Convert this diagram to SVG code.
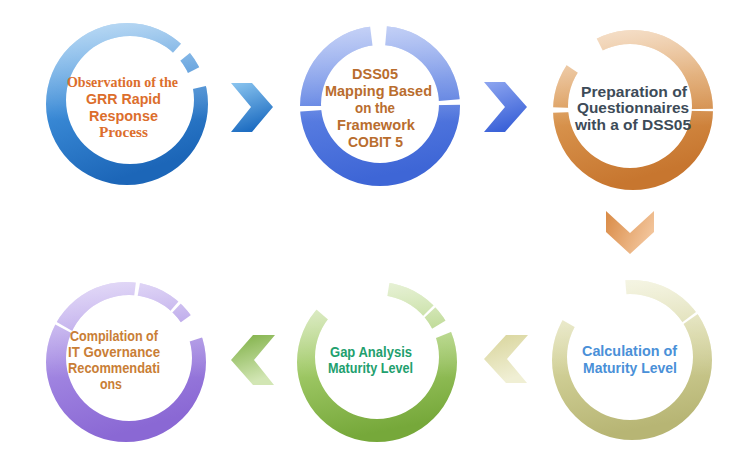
<svg xmlns="http://www.w3.org/2000/svg" width="732" height="460" viewBox="0 0 732 460">
<defs>
<style>
.ring{fill-rule:evenodd}
.shine{fill-rule:evenodd;fill:url(#shine)}
.t{font-family:"Liberation Sans",Arial,sans-serif;font-weight:bold;text-anchor:middle;font-size:15px}
.s{font-family:"Liberation Serif","Times New Roman",serif;font-weight:bold;text-anchor:middle;font-size:15px}
</style>
<linearGradient id="shine" x1="0" y1="0" x2="0" y2="1">
<stop offset="0" stop-color="#fff" stop-opacity="0.5"/>
<stop offset="0.5" stop-color="#fff" stop-opacity="0.1"/>
<stop offset="0.6" stop-color="#fff" stop-opacity="0"/>
</linearGradient>
<linearGradient id="gBlue" x1="0" y1="0" x2="0.35" y2="1">
<stop offset="0" stop-color="#7fbcee"/>
<stop offset="0.5" stop-color="#3a8ad6"/>
<stop offset="1" stop-color="#1c66b8"/>
</linearGradient>
<linearGradient id="gPeri" x1="0" y1="0" x2="0.2" y2="1">
<stop offset="0" stop-color="#93aaf0"/>
<stop offset="0.5" stop-color="#5b7fe2"/>
<stop offset="1" stop-color="#3e66d6"/>
</linearGradient>
<linearGradient id="gOrange" x1="0" y1="0" x2="0.3" y2="1">
<stop offset="0" stop-color="#efc8a0"/>
<stop offset="0.5" stop-color="#d9954f"/>
<stop offset="1" stop-color="#c7762f"/>
</linearGradient>
<linearGradient id="gPurple" x1="0" y1="0" x2="0.3" y2="1">
<stop offset="0" stop-color="#cdbcf2"/>
<stop offset="0.5" stop-color="#a287e2"/>
<stop offset="1" stop-color="#8a68d4"/>
</linearGradient>
<linearGradient id="gGreen" x1="0" y1="0" x2="0.2" y2="1">
<stop offset="0" stop-color="#dcebc0"/>
<stop offset="0.5" stop-color="#a3cb6a"/>
<stop offset="1" stop-color="#76a83a"/>
</linearGradient>
<linearGradient id="gKhaki" x1="0" y1="0" x2="0.2" y2="1">
<stop offset="0" stop-color="#f0f0d2"/>
<stop offset="0.5" stop-color="#d3d29a"/>
<stop offset="1" stop-color="#b7b574"/>
</linearGradient>
<linearGradient id="aBlue" x1="0" y1="0" x2="0.3" y2="1">
<stop offset="0" stop-color="#8cc6f0"/>
<stop offset="1" stop-color="#1f6ec2"/>
</linearGradient>
<linearGradient id="aPeri" x1="0" y1="0" x2="0.3" y2="1">
<stop offset="0" stop-color="#8ea6f0"/>
<stop offset="1" stop-color="#3b62d8"/>
</linearGradient>
<linearGradient id="aOrange" x1="0" y1="0" x2="1" y2="0.4">
<stop offset="0" stop-color="#d98a45"/>
<stop offset="1" stop-color="#f2c49a"/>
</linearGradient>
<linearGradient id="aKhaki" x1="0" y1="0" x2="0.3" y2="1">
<stop offset="0" stop-color="#d8d49a"/>
<stop offset="1" stop-color="#f0efd4"/>
</linearGradient>
<linearGradient id="aGreen" x1="0" y1="0" x2="0.3" y2="1">
<stop offset="0" stop-color="#7cae42"/>
<stop offset="1" stop-color="#d2e6b4"/>
</linearGradient>
<mask id="m1" maskUnits="userSpaceOnUse" x="0" y="0" width="732" height="460">
<rect width="732" height="460" fill="#fff"/>
<polygon points="127,104 214,7 228,22" fill="#000"/>
<polygon points="127,104 243,45 254,75" fill="#000"/>
</mask>
<mask id="m2" maskUnits="userSpaceOnUse" x="0" y="0" width="732" height="460">
<rect width="732" height="460" fill="#fff"/>
<polygon points="380,106 364,-23 391,-23" fill="#000"/>
<polygon points="380,106 509.5,95 510,104" fill="#000"/>
<polygon points="380,106 250,106 250.3,115" fill="#000"/>
</mask>
<mask id="m3" maskUnits="userSpaceOnUse" x="0" y="0" width="732" height="460">
<rect width="732" height="460" fill="#fff"/>
<polygon points="633,110 525,37 574,-6" fill="#000"/>
<polygon points="633,110 503,114.5 503,105.5" fill="#000"/>
<polygon points="633,110 763,108 763,112" fill="#000"/>
</mask>
<mask id="m4" maskUnits="userSpaceOnUse" x="0" y="0" width="732" height="460">
<rect width="732" height="460" fill="#fff"/>
<polygon points="126,362 231,286 250,322" fill="#000"/>
<polygon points="126,362 142,233 148.6,234" fill="#000"/>
<polygon points="126,362 211,264 215,267" fill="#000"/>
<polygon points="126,362 11,301 13.4,297" fill="#000"/>
</mask>
<mask id="m5" maskUnits="userSpaceOnUse" x="0" y="0" width="732" height="460">
<rect width="732" height="460" fill="#fff"/>
<polygon points="377,362 279,277 397,234" fill="#000"/>
<polygon points="377,362 469,270 472,273" fill="#000"/>
<polygon points="377,362 488,295 497.5,313" fill="#000"/>
</mask>
<mask id="m6" maskUnits="userSpaceOnUse" x="0" y="0" width="732" height="460">
<rect width="732" height="460" fill="#fff"/>
<polygon points="632,360 519,295 621,230" fill="#000"/>
<polygon points="632,360 736,282 738.5,285.4" fill="#000"/>
</mask>
</defs>
<rect width="732" height="460" fill="#fff"/>

<g id="connectors">
<polygon points="231,83 252,83 273,107 252,132 231,132 251,107" fill="url(#aBlue)"/>
<polygon points="484,82 505,82 527,107 505,132 484,132 505,107" fill="url(#aPeri)"/>
<polygon points="606,211 630,233 654,211 654,232 630,254 606,232" fill="url(#aOrange)"/>
<polygon points="528,335 506,335 484,359 506,383 527,383 507,359" fill="url(#aKhaki)"/>
<polygon points="275,335 253,335 231,360 253,385 274,385 254,360" fill="url(#aGreen)"/>
</g>

<g id="node1">
<g mask="url(#m1)">
<path class="ring" fill="url(#gBlue)" d="M46,104 a81,81 0 1,0 162,0 a81,81 0 1,0 -162,0 Z M66,100 a64,64 0 1,0 128,0 a64,64 0 1,0 -128,0 Z"/>
<path class="shine" d="M46,104 a81,81 0 1,0 162,0 a81,81 0 1,0 -162,0 Z M66,100 a64,64 0 1,0 128,0 a64,64 0 1,0 -128,0 Z"/>
</g>
<g fill="#dc6e2c">
<text class="s" x="122.5" y="87" textLength="111" lengthAdjust="spacingAndGlyphs">Observation of the</text>
<text class="t" x="123.5" y="103.5" textLength="75" lengthAdjust="spacingAndGlyphs">GRR Rapid</text>
<text class="t" x="123.5" y="120.5" textLength="69" lengthAdjust="spacingAndGlyphs">Response</text>
<text class="s" x="123.5" y="137" textLength="49" lengthAdjust="spacingAndGlyphs">Process</text>
</g>
</g>

<g id="node2">
<g mask="url(#m2)">
<path class="ring" fill="url(#gPeri)" d="M300,106 a80,80 0 1,0 160,0 a80,80 0 1,0 -160,0 Z M321,104 a59,59 0 1,0 118,0 a59,59 0 1,0 -118,0 Z"/>
<path class="shine" d="M300,106 a80,80 0 1,0 160,0 a80,80 0 1,0 -160,0 Z M321,104 a59,59 0 1,0 118,0 a59,59 0 1,0 -118,0 Z"/>
</g>
<g fill="#b96d2e">
<text class="t" x="375" y="78.5" textLength="46" lengthAdjust="spacingAndGlyphs">DSS05</text>
<text class="t" x="378.5" y="96" textLength="107" lengthAdjust="spacingAndGlyphs">Mapping Based</text>
<text class="t" x="375" y="113" textLength="40" lengthAdjust="spacingAndGlyphs">on the</text>
<text class="t" x="376" y="130" textLength="78" lengthAdjust="spacingAndGlyphs">Framework</text>
<text class="t" x="375.5" y="147" textLength="55" lengthAdjust="spacingAndGlyphs">COBIT 5</text>
</g>
</g>

<g id="node3">
<g mask="url(#m3)">
<path class="ring" fill="url(#gOrange)" d="M553,110 a80,80 0 1,0 160,0 a80,80 0 1,0 -160,0 Z M568,106 a62,62 0 1,0 124,0 a62,62 0 1,0 -124,0 Z"/>
<path class="shine" d="M553,110 a80,80 0 1,0 160,0 a80,80 0 1,0 -160,0 Z M568,106 a62,62 0 1,0 124,0 a62,62 0 1,0 -124,0 Z"/>
</g>
<g fill="#3d4b58">
<text class="t" x="634" y="97" textLength="106" lengthAdjust="spacingAndGlyphs">Preparation of</text>
<text class="t" x="633" y="113" textLength="112" lengthAdjust="spacingAndGlyphs">Questionnaires</text>
<text class="t" x="633" y="130" textLength="116" lengthAdjust="spacingAndGlyphs">with a of DSS05</text>
</g>
</g>

<g id="node4">
<g mask="url(#m4)">
<path class="ring" fill="url(#gPurple)" d="M46,362 a80,80 0 1,0 160,0 a80,80 0 1,0 -160,0 Z M66,358 a63,63 0 1,0 126,0 a63,63 0 1,0 -126,0 Z"/>
<path class="shine" d="M46,362 a80,80 0 1,0 160,0 a80,80 0 1,0 -160,0 Z M66,358 a63,63 0 1,0 126,0 a63,63 0 1,0 -126,0 Z"/>
</g>
<g fill="#c97e36">
<text class="t" x="114" y="341" textLength="88" lengthAdjust="spacingAndGlyphs">Compilation of</text>
<text class="t" x="114" y="357" textLength="92" lengthAdjust="spacingAndGlyphs">IT Governance</text>
<text class="t" x="114" y="373" textLength="92" lengthAdjust="spacingAndGlyphs">Recommendati</text>
<text class="t" x="111" y="389" textLength="22" lengthAdjust="spacingAndGlyphs">ons</text>
</g>
</g>

<g id="node5">
<g mask="url(#m5)">
<path class="ring" fill="url(#gGreen)" d="M297,362 a80,80 0 1,0 160,0 a80,80 0 1,0 -160,0 Z M315,357 a62,62 0 1,0 124,0 a62,62 0 1,0 -124,0 Z"/>
<path class="shine" d="M297,362 a80,80 0 1,0 160,0 a80,80 0 1,0 -160,0 Z M315,357 a62,62 0 1,0 124,0 a62,62 0 1,0 -124,0 Z"/>
</g>
<g fill="#22a06e">
<text class="t" x="371" y="357" textLength="82" lengthAdjust="spacingAndGlyphs">Gap Analysis</text>
<text class="t" x="370.5" y="372.5" textLength="85" lengthAdjust="spacingAndGlyphs">Maturity Level</text>
</g>
</g>

<g id="node6">
<g mask="url(#m6)">
<path class="ring" fill="url(#gKhaki)" d="M552,360 a80,80 0 1,0 160,0 a80,80 0 1,0 -160,0 Z M567,357 a63,63 0 1,0 126,0 a63,63 0 1,0 -126,0 Z"/>
<path class="shine" d="M552,360 a80,80 0 1,0 160,0 a80,80 0 1,0 -160,0 Z M567,357 a63,63 0 1,0 126,0 a63,63 0 1,0 -126,0 Z"/>
</g>
<g fill="#4a90d8">
<text class="t" x="629.5" y="355.5" textLength="95" lengthAdjust="spacingAndGlyphs">Calculation of</text>
<text class="t" x="630" y="372.5" textLength="94" lengthAdjust="spacingAndGlyphs">Maturity Level</text>
</g>
</g>
</svg>
